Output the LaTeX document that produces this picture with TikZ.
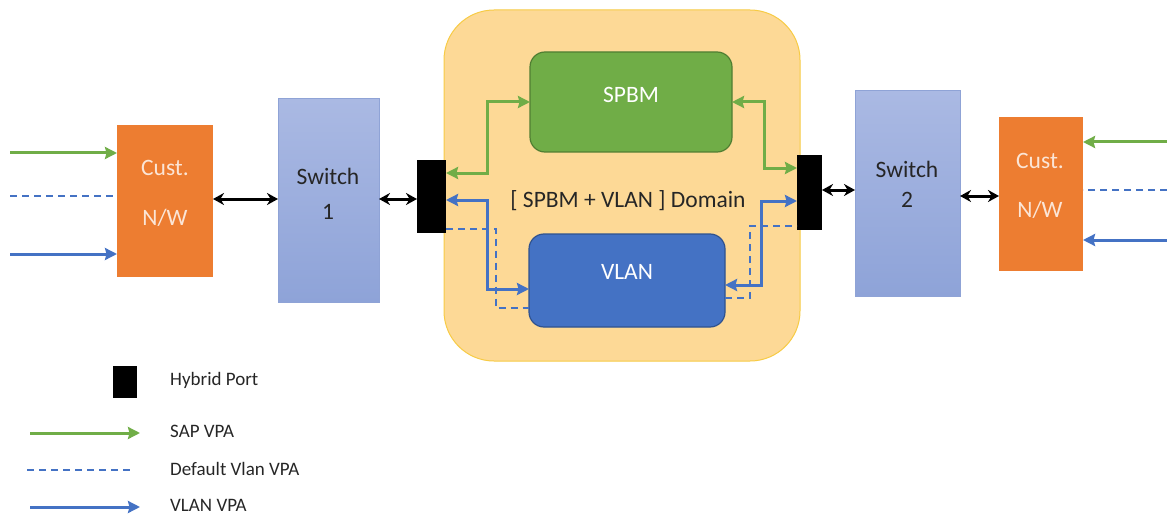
\documentclass[tikz,border=0pt]{standalone}
\usepackage{fontspec}
\setmainfont{Carlito}
\usetikzlibrary{arrows.meta,calc}
\definecolor{cOrange}{HTML}{ED7D31}
\definecolor{cSwTop}{HTML}{AAB9E3}
\definecolor{cSwBot}{HTML}{8EA3D8}
\definecolor{cSwBorder}{HTML}{8FA3D6}
\definecolor{cYellow}{HTML}{FDD996}
\definecolor{cYellowB}{HTML}{F7CB45}
\definecolor{cGreen}{HTML}{70AD47}
\definecolor{cGreenB}{HTML}{507E32}
\definecolor{cBlue}{HTML}{4472C4}
\definecolor{cBlueB}{HTML}{2F528F}
\definecolor{cCream}{HTML}{FBE5D6}
\definecolor{cText}{HTML}{262626}
\tikzset{
  box/.style={inner sep=0pt, outer sep=0pt},
  custbox/.style={box, fill=cOrange},
  swbox/.style={box, draw=cSwBorder, line width=1pt, top color=cSwTop, bottom color=cSwBot},
  portbox/.style={box, fill=black},
  bigtxt/.style={font=\fontsize{23.5}{28}\selectfont, inner sep=0pt},
  legtxt/.style={font=\fontsize{19}{23}\selectfont, text=cText, inner sep=0pt, anchor=west},
  gline/.style={draw=cGreen, line width=3pt},
  bline/.style={draw=cBlue, line width=3pt},
  dline/.style={draw=cBlue, line width=2pt, dash pattern=on 7pt off 5pt},
  tip/.style={arrows={-{Stealth[inset=1.5pt,length=12pt,width=12pt]}}},
  dtip/.style={arrows={{Stealth[inset=1.5pt,length=12pt,width=12pt]}-{Stealth[inset=1.5pt,length=12pt,width=12pt]}}},
  kline/.style={draw=black, line width=3pt, arrows={{Stealth[length=11pt,width=12pt]}-{Stealth[length=11pt,width=12pt]}}},
}
\begin{document}
\begin{tikzpicture}[x=1pt,y=-1pt]
\useasboundingbox (0,0) rectangle (1167,516);

% domain
\node[box, fill=cYellow, draw=cYellowB, line width=1pt, rounded corners=50pt, minimum width=356pt, minimum height=351pt] (dom) at (622,185.5) {};
\node[box, fill=cGreen, draw=cGreenB, line width=1.2pt, rounded corners=15pt, minimum width=202pt, minimum height=100pt] (spbm) at (631,102) {};
\node[bigtxt, text=white] (spbmt) at (631,95) {SPBM};
\node[box, fill=cBlue, draw=cBlueB, line width=1.2pt, rounded corners=15pt, minimum width=196pt, minimum height=93pt] (vlan) at (627,280.5) {};
\node[bigtxt, text=white] (vlant) at (627,272) {VLAN};
\node[bigtxt, text=cText] (domt) at (628,201) {[ SPBM + VLAN ] Domain};

% customer networks and switches
\node[custbox, minimum width=96pt, minimum height=152pt] (co1) at (165,201) {};
\node[bigtxt, text=cCream] (co1a) at (165,168) {Cust.};
\node[bigtxt, text=cCream] (co1b) at (165,218) {N/W};
\node[swbox, minimum width=101pt, minimum height=203pt] (sw1) at (328.5,200.5) {};
\node[bigtxt, text=cText] (sw1a) at (328,176) {Switch};
\node[bigtxt, text=cText] (sw1b) at (328,212) {1};
\node[portbox, minimum width=29pt, minimum height=73pt] (lp) at (431.5,196.5) {};
\node[portbox, minimum width=25pt, minimum height=75pt] (rp) at (809.5,192.5) {};
\node[swbox, minimum width=105pt, minimum height=205pt] (sw2) at (907.5,193.5) {};
\node[bigtxt, text=cText] (sw2a) at (907,169) {Switch};
\node[bigtxt, text=cText] (sw2b) at (907,200) {2};
\node[custbox, minimum width=84pt, minimum height=154pt] (co2) at (1041,194) {};
\node[bigtxt, text=cCream] (co2a) at (1040,161) {Cust.};
\node[bigtxt, text=cCream] (co2b) at (1040,210) {N/W};

% inner connections
\draw[gline, dtip] ([yshift=23.5pt]lp.east) -- ++(41,0) |- (spbm.west);
\draw[bline, dtip] ([yshift=-3.5pt]lp.east) -- ++(41,0) |- ([yshift=-8.5pt]vlan.west);
\draw[dline] ([yshift=-32pt]lp.east) -- ++(50,0) |- ([yshift=-27.5pt]vlan.west);
\draw[gline, dtip] (spbm.east) -- ++(32,0) |- ([yshift=24.5pt]rp.west);
\draw[bline, dtip] ([yshift=-4.5pt]vlan.east) -- ++(36,0) |- ([yshift=-8.5pt]rp.west);
\draw[dline] ([yshift=-17.5pt]vlan.east) -- ++(25,0) |- ([yshift=-33.5pt]rp.west);

% black links
\draw[kline] ([yshift=2pt]co1.east) -- ([yshift=2pt]co1.east -| sw1.west);
\draw[kline] ([yshift=-2.5pt]lp.west -| sw1.east) -- ([yshift=-2.5pt]lp.west);
\draw[kline] ([yshift=2.5pt]rp.east) -- ([yshift=2.5pt]rp.east -| sw2.west);
\draw[kline] ([yshift=-2.5pt]sw2.east) -- ([yshift=-2.5pt]sw2.east -| co2.west);

% external inputs
\coordinate (lg) at (10,153);
\coordinate (ld) at (10,196);
\coordinate (lb) at (10,254);
\draw[gline, tip] (lg) -- (lg -| co1.west);
\draw[dline] (ld) -- (ld -| co1.west);
\draw[bline, tip] (lb) -- (lb -| co1.west);
\coordinate (rg) at (1167,142);
\coordinate (rd) at (1167,190);
\coordinate (rb) at (1167,240);
\draw[gline, tip] (rg) -- (rg -| co2.east);
\draw[dline] (rd) -- (rd -| co2.east);
\draw[bline, tip] (rb) -- (rb -| co2.east);

% legend
\node[portbox, minimum width=24pt, minimum height=32pt] (lport) at (125,382) {};
\node[legtxt] (lportt) at (170,380) {Hybrid Port};
\coordinate (l1a) at (30,433);
\coordinate (l1b) at (140,433);
\draw[gline, tip] (l1a) -- (l1b);
\node[legtxt] (l1t) at (170,431) {SAP VPA};
\coordinate (l2a) at (27,470);
\coordinate (l2b) at (133,470);
\draw[dline] (l2a) -- (l2b);
\node[legtxt] (l2t) at (170,469) {Default Vlan VPA};
\coordinate (l3a) at (30,507);
\coordinate (l3b) at (140,507);
\draw[bline, tip] (l3a) -- (l3b);
\node[legtxt] (l3t) at (170,505) {VLAN VPA};
\end{tikzpicture}
\end{document}
